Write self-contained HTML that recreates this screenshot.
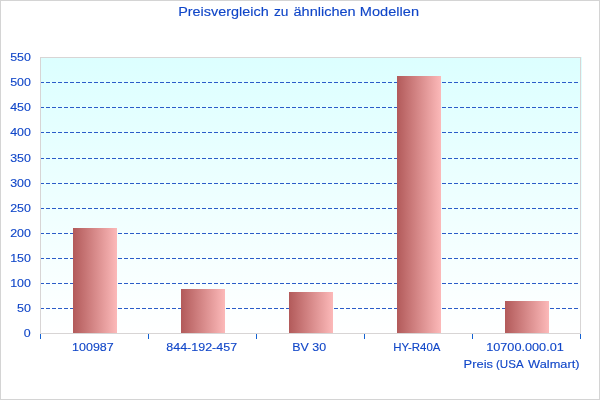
<!DOCTYPE html>
<html lang="de">
<head>
<meta charset="utf-8">
<title>Preisvergleich zu ähnlichen Modellen</title>
<style>
  html, body { margin: 0; padding: 0; background: #ffffff; }
  body { width: 600px; height: 400px; overflow: hidden; }
  svg { display: block; will-change: transform; }
  text { font-family: "Liberation Sans", sans-serif; fill: #1046c8; stroke: #1046c8; stroke-width: 0.12px; }
  .ax { font-size: 11px; }
  .ttl { font-size: 12.5px; }
</style>
</head>
<body>
<svg width="600" height="400" viewBox="0 0 600 400">
  <defs>
    <linearGradient id="bg" x1="0" y1="0" x2="0" y2="1">
      <stop offset="0" stop-color="#dcffff"/>
      <stop offset="1" stop-color="#ffffff"/>
    </linearGradient>
    <linearGradient id="bar" x1="0" y1="0" x2="1" y2="0">
      <stop offset="0" stop-color="#b25a5a"/>
      <stop offset="1" stop-color="#fcb9b9"/>
    </linearGradient>
  </defs>

  <!-- page -->
  <rect x="0" y="0" width="600" height="400" fill="#ffffff"/>
  <rect x="0.5" y="0.5" width="599" height="399" fill="none" stroke="#d4d4d4" stroke-width="1" shape-rendering="crispEdges"/>

  <!-- plot area -->
  <rect x="41" y="57" width="541" height="276" fill="url(#bg)"/>
  <rect x="40.5" y="57.5" width="540" height="276" fill="none" stroke="#d8d5d5" stroke-width="1"/>

  <!-- grid lines -->
  <g stroke="#2b5cc8" stroke-width="1" stroke-dasharray="4 2" stroke-dashoffset="1" shape-rendering="crispEdges">
    <line x1="41" y1="82.5"  x2="580" y2="82.5"/>
    <line x1="41" y1="107.5" x2="580" y2="107.5"/>
    <line x1="41" y1="132.5" x2="580" y2="132.5"/>
    <line x1="41" y1="158.5" x2="580" y2="158.5"/>
    <line x1="41" y1="183.5" x2="580" y2="183.5"/>
    <line x1="41" y1="208.5" x2="580" y2="208.5"/>
    <line x1="41" y1="233.5" x2="580" y2="233.5"/>
    <line x1="41" y1="258.5" x2="580" y2="258.5"/>
    <line x1="41" y1="283.5" x2="580" y2="283.5"/>
    <line x1="41" y1="308.5" x2="580" y2="308.5"/>
  </g>

  <!-- bars -->
  <g>
    <rect x="73"  y="228" width="44" height="105" fill="url(#bar)"/>
    <rect x="181" y="289" width="44" height="44"  fill="url(#bar)"/>
    <rect x="289" y="292" width="44" height="41"  fill="url(#bar)"/>
    <rect x="397" y="76"  width="44" height="257" fill="url(#bar)"/>
    <rect x="505" y="301" width="44" height="32"  fill="url(#bar)"/>
  </g>

  <!-- x axis ticks -->
  <g fill="#1462d2" shape-rendering="crispEdges">
    <rect x="40"  y="334" width="1" height="5"/>
    <rect x="148" y="334" width="1" height="5"/>
    <rect x="256" y="334" width="1" height="5"/>
    <rect x="364" y="334" width="1" height="5"/>
    <rect x="472" y="334" width="1" height="5"/>
    <rect x="580" y="334" width="1" height="5"/>
  </g>

  <!-- title -->
  <g class="ttl">
    <text x="178.2" y="16" textLength="90.5" lengthAdjust="spacingAndGlyphs">Preisvergleich</text>
    <text x="274"   y="16" textLength="14.5" lengthAdjust="spacingAndGlyphs">zu</text>
    <text x="293.5" y="16" textLength="62.2" lengthAdjust="spacingAndGlyphs">ähnlichen</text>
    <text x="359.8" y="16" textLength="59.2" lengthAdjust="spacingAndGlyphs">Modellen</text>
  </g>

  <!-- y labels -->
  <g class="ax">
    <text x="10.2" y="61"  textLength="20.7" lengthAdjust="spacingAndGlyphs">550</text>
    <text x="10.2" y="86"  textLength="20.7" lengthAdjust="spacingAndGlyphs">500</text>
    <text x="10.2" y="111" textLength="20.7" lengthAdjust="spacingAndGlyphs">450</text>
    <text x="10.2" y="136" textLength="20.7" lengthAdjust="spacingAndGlyphs">400</text>
    <text x="10.2" y="162" textLength="20.7" lengthAdjust="spacingAndGlyphs">350</text>
    <text x="10.2" y="187" textLength="20.7" lengthAdjust="spacingAndGlyphs">300</text>
    <text x="10.2" y="212" textLength="20.7" lengthAdjust="spacingAndGlyphs">250</text>
    <text x="10.2" y="237" textLength="20.7" lengthAdjust="spacingAndGlyphs">200</text>
    <text x="10.2" y="262" textLength="20.7" lengthAdjust="spacingAndGlyphs">150</text>
    <text x="10.2" y="287" textLength="20.7" lengthAdjust="spacingAndGlyphs">100</text>
    <text x="17.0" y="312" textLength="13.9" lengthAdjust="spacingAndGlyphs">50</text>
    <text x="23.8" y="337" textLength="6.9" lengthAdjust="spacingAndGlyphs">0</text>
  </g>

  <!-- x labels -->
  <g class="ax">
    <text x="72.1"  y="351" textLength="41.6" lengthAdjust="spacingAndGlyphs">100987</text>
    <text x="166.3" y="351" textLength="70.8" lengthAdjust="spacingAndGlyphs">844-192-457</text>
    <text x="292.3" y="351" textLength="33.8" lengthAdjust="spacingAndGlyphs">BV 30</text>
    <text x="393.2" y="351" textLength="47.2" lengthAdjust="spacingAndGlyphs">HY-R40A</text>
    <text x="486.2" y="351" textLength="77.6" lengthAdjust="spacingAndGlyphs">10700.000.01</text>
    <text x="463.6" y="368" textLength="29.4" lengthAdjust="spacingAndGlyphs">Preis</text>
    <text x="496.0" y="368" textLength="27.6" lengthAdjust="spacingAndGlyphs">(USA</text>
    <text x="528.1" y="368" textLength="51.4" lengthAdjust="spacingAndGlyphs">Walmart)</text>
  </g>
</svg>
</body>
</html>
